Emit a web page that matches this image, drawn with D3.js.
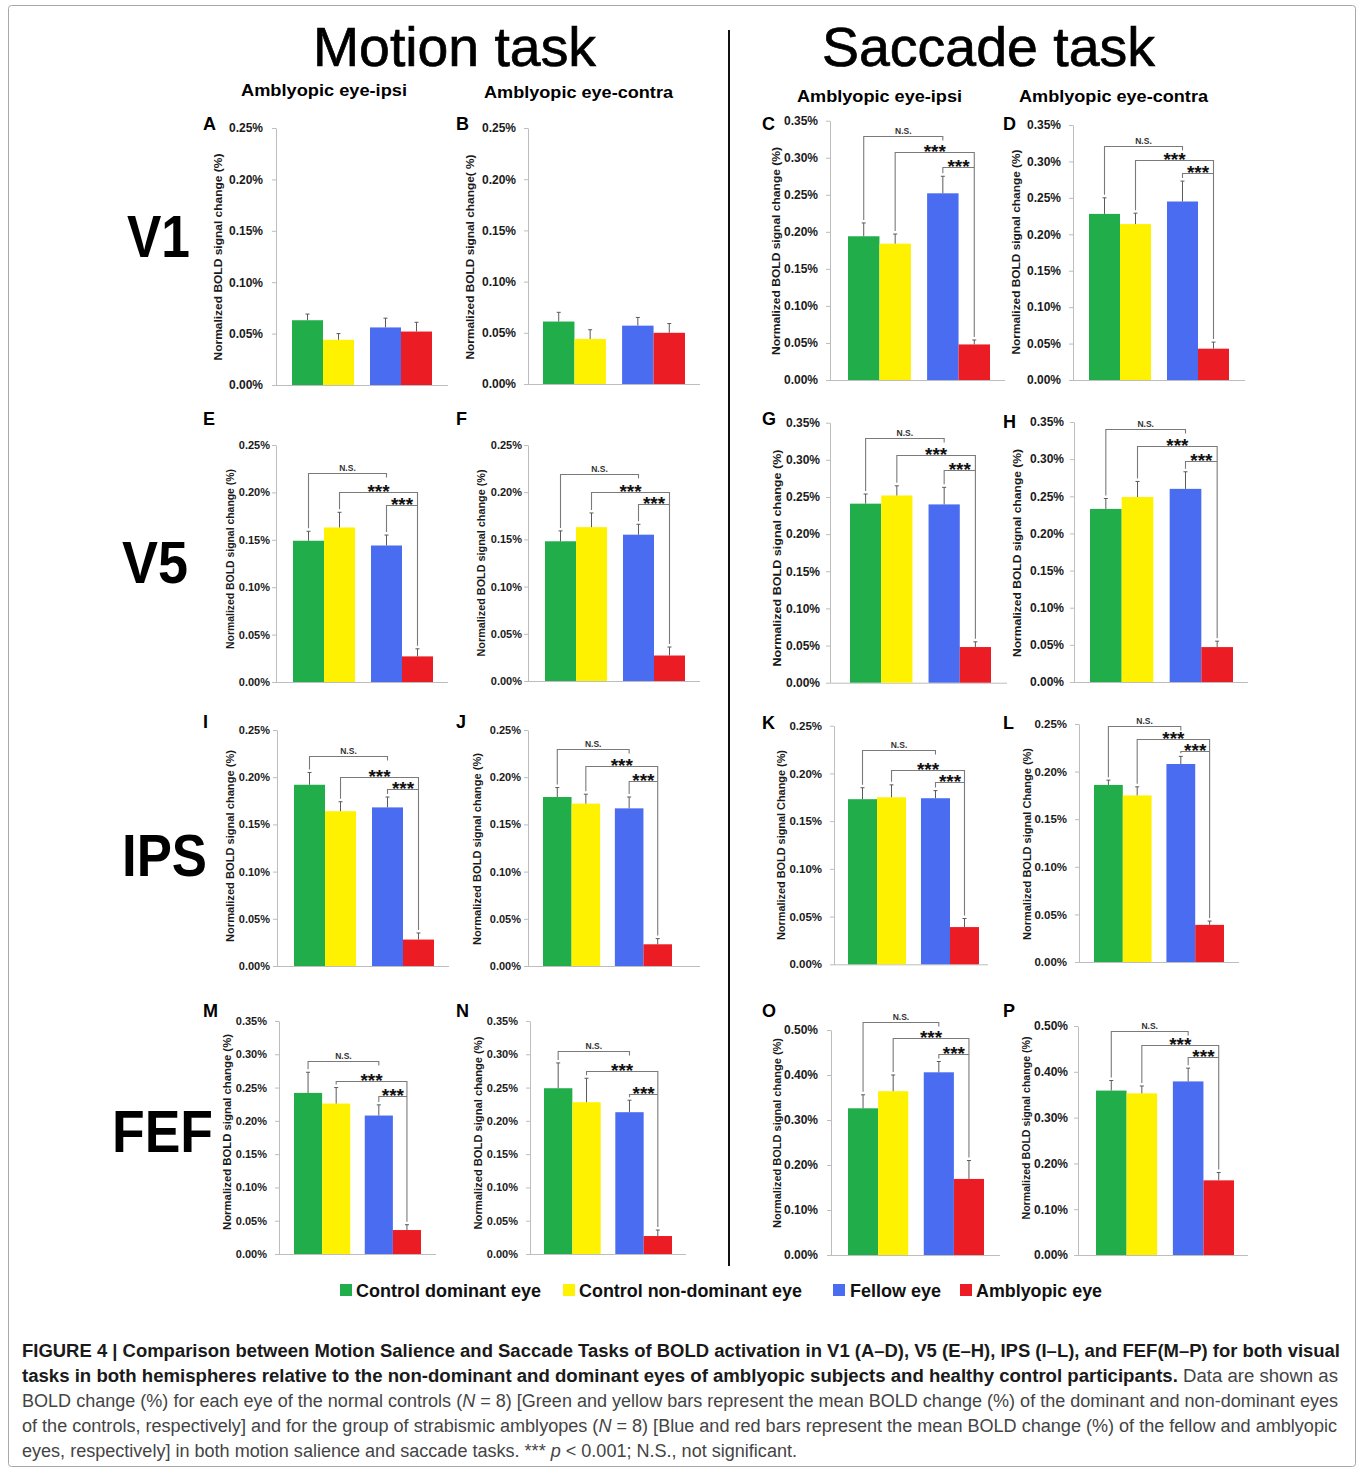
<!DOCTYPE html>
<html>
<head>
<meta charset="utf-8" />
<title>Figure 4</title>
<script src="https://d3js.org/d3.v7.min.js"></script>
<style>
  body { margin: 0; background: #fff; }
  svg text { font-family: "Liberation Sans", Arial, sans-serif; }
</style>
</head>
<body>
<svg id="fig" width="1363" height="1471"></svg>
<script>

// ---- data (values in % signal change) ----
var panelNames = ["A","B","C","D","E","F","G","H","I","J","K","L","M","N","O","P"];
var seriesNames = ["Control dominant eye", "Control non-dominant eye", "Fellow eye", "Amblyopic eye"];
var seriesColors = ["#22ad4b", "#fff200", "#4a6cf0", "#ec1c24"];

var controlDominant    = [0.063, 0.061, 0.194, 0.228, 0.149, 0.148, 0.241, 0.233, 0.192, 0.179, 0.173, 0.186, 0.242, 0.249, 0.326, 0.359];
var controlDominantErr = [0.006, 0.009, 0.018, 0.022, 0.010, 0.011, 0.013, 0.014, 0.013, 0.010, 0.012, 0.005, 0.031, 0.038, 0.030, 0.022];
var controlNonDom      = [0.044, 0.044, 0.184, 0.214, 0.163, 0.163, 0.252, 0.249, 0.164, 0.172, 0.175, 0.175, 0.226, 0.228, 0.364, 0.353];
var controlNonDomErr   = [0.006, 0.009, 0.013, 0.015, 0.016, 0.015, 0.013, 0.021, 0.010, 0.010, 0.013, 0.009, 0.024, 0.036, 0.036, 0.016];
var fellowEye          = [0.056, 0.057, 0.252, 0.245, 0.144, 0.155, 0.240, 0.260, 0.168, 0.167, 0.174, 0.208, 0.208, 0.213, 0.406, 0.379];
var fellowEyeErr       = [0.009, 0.008, 0.023, 0.028, 0.011, 0.011, 0.023, 0.023, 0.011, 0.012, 0.008, 0.008, 0.016, 0.018, 0.024, 0.029];
var amblyopicEye       = [0.052, 0.050, 0.048, 0.043, 0.027, 0.027, 0.048, 0.047, 0.028, 0.023, 0.039, 0.039, 0.036, 0.027, 0.169, 0.163];
var amblyopicEyeErr    = [0.009, 0.009, 0.006, 0.009, 0.008, 0.009, 0.007, 0.008, 0.007, 0.006, 0.009, 0.004, 0.008, 0.009, 0.041, 0.017];

var yMax  = [0.25, 0.25, 0.35, 0.35, 0.25, 0.25, 0.35, 0.35, 0.25, 0.25, 0.25, 0.25, 0.35, 0.35, 0.50, 0.50];
var yStep = [0.05, 0.05, 0.05, 0.05, 0.05, 0.05, 0.05, 0.05, 0.05, 0.05, 0.05, 0.05, 0.05, 0.05, 0.10, 0.10];

// bracket heights (in %): N.S. green-blue, *** yellow-red, *** blue-red
var sigLevels = [null, null,
  [0.330, 0.308, 0.288], [0.321, 0.302, 0.284],
  [0.2205, 0.200, 0.187], [0.219, 0.200, 0.187],
  [0.329, 0.307, 0.287], [0.340, 0.318, 0.298],
  [0.222, 0.200, 0.187], [0.230, 0.212, 0.196],
  [0.2245, 0.204, 0.191], [0.2475, 0.234, 0.222],
  [0.290, 0.260, 0.238], [0.305, 0.275, 0.240],
  [0.5185, 0.483, 0.447], [0.488, 0.459, 0.432]];
var sigLabels = ["N.S.", "***", "***"];

var yTitle  = "Normalized BOLD signal change (%)";
var yTitles = [yTitle, "Normalized BOLD signal change( %)", yTitle, yTitle, yTitle, yTitle, yTitle, yTitle,
  yTitle, yTitle, "Normalized BOLD signal Change (%)", "Normalized BOLD signal Change (%)",
  yTitle, yTitle, yTitle, yTitle];

var rowLabels = ["V1", "V5", "IPS", "FEF"];
var taskTitles = ["Motion task", "Saccade task"];
var columnTitles = ["Amblyopic eye-ipsi", "Amblyopic eye-contra", "Amblyopic eye-ipsi", "Amblyopic eye-contra"];

// ---- layout of each panel on the page ----
// x0: y axis, xe: end of x axis, b0/b1: bar span, top/bottom: y range,
// lg: label gap, fs: tick font, tx/ty/tl/ts: axis title, lx/ly: panel letter
var layout = {
  A: {x0: 276, xe: 448, b0: 292, b1: 432, top: 128, bottom: 385, lg: 13, fs: 12, tx: 218, ty: 257, tl: 207, ts: 11.5, lx: 203, ly: 130},
  B: {x0: 528, xe: 700, b0: 543, b1: 685, top: 128, bottom: 384, lg: 12, fs: 12, tx: 470, ty: 257, tl: 205, ts: 11.5, lx: 456, ly: 130},
  C: {x0: 830, xe: 1005, b0: 848, b1: 990, top: 120.7, bottom: 380, lg: 12, fs: 12, tx: 776, ty: 251, tl: 208, ts: 11.5, lx: 762, ly: 130},
  D: {x0: 1073, xe: 1245, b0: 1089, b1: 1229, top: 125, bottom: 380, lg: 12, fs: 12, tx: 1016, ty: 252, tl: 205, ts: 11.5, lx: 1003, ly: 130},
  E: {x0: 276, xe: 448, b0: 293, b1: 433, top: 445, bottom: 682, lg: 6, fs: 11, tx: 230, ty: 559, tl: 180, ts: 10, lx: 203, ly: 425},
  F: {x0: 528, xe: 700, b0: 545, b1: 685, top: 445, bottom: 681, lg: 6, fs: 11, tx: 481, ty: 563, tl: 187, ts: 10, lx: 456, ly: 425},
  G: {x0: 830, xe: 1007, b0: 850, b1: 991, top: 422.7, bottom: 682.7, lg: 10, fs: 12, tx: 777, ty: 558, tl: 217, ts: 11.5, lx: 762, ly: 425},
  H: {x0: 1074, xe: 1248, b0: 1090, b1: 1233, top: 422, bottom: 682, lg: 10, fs: 12, tx: 1017, ty: 553, tl: 208, ts: 11.5, lx: 1003, ly: 428},
  I: {x0: 277, xe: 449, b0: 294, b1: 434, top: 730, bottom: 966, lg: 7, fs: 11, tx: 230, ty: 846, tl: 192, ts: 10, lx: 203, ly: 728},
  J: {x0: 528, xe: 700, b0: 543, b1: 672, top: 730, bottom: 966, lg: 7, fs: 11, tx: 477, ty: 849, tl: 192, ts: 10, lx: 456, ly: 728},
  K: {x0: 834, xe: 988, b0: 848, b1: 979, top: 725.7, bottom: 964.3, lg: 12, fs: 11.5, tx: 781, ty: 845, tl: 190, ts: 10.5, lx: 762, ly: 729},
  L: {x0: 1079, xe: 1239, b0: 1094, b1: 1224, top: 724, bottom: 962, lg: 12, fs: 11.5, tx: 1027, ty: 844, tl: 192, ts: 10.5, lx: 1003, ly: 729},
  M: {x0: 279, xe: 436, b0: 294, b1: 421, top: 1021, bottom: 1254, lg: 12, fs: 11, tx: 227, ty: 1132, tl: 196, ts: 10, lx: 203, ly: 1017},
  N: {x0: 530, xe: 686, b0: 544, b1: 672, top: 1021, bottom: 1254, lg: 12, fs: 11, tx: 478, ty: 1133, tl: 193, ts: 10, lx: 456, ly: 1017},
  O: {x0: 831, xe: 1000, b0: 848, b1: 984, top: 1030, bottom: 1255, lg: 13, fs: 12, tx: 777, ty: 1133, tl: 190, ts: 10.5, lx: 762, ly: 1017},
  P: {x0: 1078, xe: 1248, b0: 1096, b1: 1234, top: 1026, bottom: 1255, lg: 10, fs: 12, tx: 1026, ty: 1128, tl: 183, ts: 10.5, lx: 1003, ly: 1017}
};

var svg = d3.select("#fig");

// frame
svg.append("rect")
  .attr("x", 8.5).attr("y", 5.5)
  .attr("width", 1347).attr("height", 1461)
  .attr("rx", 3)
  .attr("fill", "none")
  .attr("stroke", "#a8a8a8");

// divider between the two tasks
svg.append("line")
  .attr("x1", 729).attr("x2", 729)
  .attr("y1", 30).attr("y2", 1266)
  .attr("stroke", "#111").attr("stroke-width", 2);

// task titles
svg.selectAll(".task")
  .data(taskTitles)
  .enter().append("text")
  .attr("class", "task")
  .attr("x", function(d, i) { return [454.5, 988.5][i]; })
  .attr("y", 66)
  .attr("text-anchor", "middle")
  .attr("font-size", 56)
  .attr("stroke", "#000").attr("stroke-width", 0.7)
  .attr("textLength", function(d, i) { return [283, 333][i]; })
  .attr("lengthAdjust", "spacingAndGlyphs")
  .text(function(d) { return d; });

// column titles
svg.selectAll(".coltitle")
  .data(columnTitles)
  .enter().append("text")
  .attr("class", "coltitle")
  .attr("x", function(d, i) { return [324, 578.5, 879.5, 1113.5][i]; })
  .attr("y", function(d, i) { return [96, 98, 102, 102][i]; })
  .attr("text-anchor", "middle")
  .attr("font-size", 17)
  .attr("font-weight", "bold")
  .attr("textLength", function(d, i) { return [166, 189, 165, 189][i]; })
  .attr("lengthAdjust", "spacingAndGlyphs")
  .text(function(d) { return d; });

// row labels
svg.selectAll(".rowlabel")
  .data(rowLabels)
  .enter().append("text")
  .attr("class", "rowlabel")
  .attr("x", function(d, i) { return [127, 122, 122, 112][i]; })
  .attr("y", function(d, i) { return [257, 583, 876, 1152][i]; })
  .attr("font-size", 60)
  .attr("font-weight", "bold")
  .attr("textLength", function(d, i) { return [63, 66, 85, 101][i]; })
  .attr("lengthAdjust", "spacingAndGlyphs")
  .text(function(d) { return d; });

function drawPanel(name, i) {
  var L = layout[name];
  var g = svg.append("g").attr("class", "panel-" + name);

  var y = d3.scaleLinear().domain([0, yMax[i]]).range([L.bottom, L.top]);
  var groups = d3.scaleBand()
    .domain(["controls", "amblyopes"])
    .range([L.b0, L.b1])
    .paddingInner(0.205);
  var eyes = d3.scaleBand().domain([0, 1]).range([0, groups.bandwidth()]);

  var bars = [
    {group: "controls", eye: 0, v: controlDominant[i], e: controlDominantErr[i], c: seriesColors[0]},
    {group: "controls", eye: 1, v: controlNonDom[i], e: controlNonDomErr[i], c: seriesColors[1]},
    {group: "amblyopes", eye: 0, v: fellowEye[i], e: fellowEyeErr[i], c: seriesColors[2]},
    {group: "amblyopes", eye: 1, v: amblyopicEye[i], e: amblyopicEyeErr[i], c: seriesColors[3]}
  ];
  bars.forEach(function(d) {
    d.x = groups(d.group) + eyes(d.eye);
    d.cx = d.x + eyes.bandwidth() / 2;
  });

  // y axis
  var ticks = d3.range(0, yMax[i] + 1e-9, yStep[i]);
  var yAxis = d3.axisLeft(y)
    .tickValues(ticks)
    .tickSizeInner(4)
    .tickSizeOuter(0)
    .tickPadding(L.lg - 4)
    .tickFormat(function(d) { return d.toFixed(2) + "%"; });
  var ag = g.append("g")
    .attr("transform", "translate(" + L.x0 + ",0)")
    .call(yAxis);
  ag.select(".domain").attr("stroke", "#bdbdbd");
  ag.selectAll(".tick line").attr("stroke", "#bdbdbd");
  ag.selectAll(".tick text")
    .attr("fill", "#1a1a1a")
    .attr("font-size", L.fs)
    .attr("font-weight", "bold")
    .attr("font-family", "'Liberation Sans', Arial, sans-serif");

  // x axis
  g.append("line")
    .attr("x1", L.x0).attr("x2", L.xe)
    .attr("y1", y(0) + 0.5).attr("y2", y(0) + 0.5)
    .attr("stroke", "#bdbdbd");

  // bars
  g.selectAll(".bar")
    .data(bars)
    .enter().append("rect")
    .attr("class", "bar")
    .attr("x", function(d) { return d.x; })
    .attr("width", eyes.bandwidth())
    .attr("y", function(d) { return y(d.v); })
    .attr("height", function(d) { return y(0) - y(d.v); })
    .attr("fill", function(d) { return d.c; });

  // error bars
  var eb = g.selectAll(".err")
    .data(bars)
    .enter().append("g")
    .attr("class", "err")
    .attr("stroke", "#5a5a5a")
    .attr("stroke-width", 1);
  eb.append("line")
    .attr("x1", function(d) { return d.cx; })
    .attr("x2", function(d) { return d.cx; })
    .attr("y1", function(d) { return y(d.v); })
    .attr("y2", function(d) { return y(d.v + d.e); });
  eb.append("line")
    .attr("x1", function(d) { return d.cx - 2; })
    .attr("x2", function(d) { return d.cx + 2; })
    .attr("y1", function(d) { return y(d.v + d.e); })
    .attr("y2", function(d) { return y(d.v + d.e); });

  // significance brackets
  var lev = sigLevels[i];
  if (lev) {
    var tops = bars.map(function(d) { return y(d.v + d.e) - 3; });
    var h = lev.map(function(v) { return Math.round(y(v)) + 0.5; });
    var paths = [
      [[bars[0].cx, tops[0]], [bars[0].cx, h[0]], [bars[2].cx, h[0]], [bars[2].cx, h[0] + 4]],
      [[bars[1].cx, tops[1]], [bars[1].cx, h[1]], [bars[3].cx, h[1]], [bars[3].cx, tops[3]]],
      [[bars[2].cx, tops[2]], [bars[2].cx, h[2]], [bars[3].cx, h[2]]]
    ];
    var line = d3.line();
    g.selectAll(".bracket")
      .data(paths)
      .enter().append("path")
      .attr("class", "bracket")
      .attr("d", line)
      .attr("fill", "none")
      .attr("stroke", "#7a7a7a")
      .attr("stroke-width", 1.1);

    var labelPos = [
      {x: (bars[0].cx + bars[2].cx) / 2, y: h[0]},
      {x: (bars[1].cx + bars[3].cx) / 2, y: h[1]},
      {x: (bars[2].cx + bars[3].cx) / 2, y: h[2]}
    ];
    g.selectAll(".siglabel")
      .data(sigLabels)
      .enter().append("text")
      .attr("class", "siglabel")
      .attr("x", function(d, k) { return labelPos[k].x; })
      .attr("y", function(d, k) { return d === "N.S." ? labelPos[k].y - 3 : labelPos[k].y + 5; })
      .attr("text-anchor", "middle")
      .attr("font-size", function(d) { return d === "N.S." ? 8.5 : 19; })
      .attr("font-weight", "bold")
      .attr("fill", function(d) { return d === "N.S." ? "#333" : "#111"; })
      .text(function(d) { return d; });
  }

  // y axis title
  g.append("text")
    .attr("transform", "translate(" + L.tx + "," + L.ty + ") rotate(-90)")
    .attr("text-anchor", "middle")
    .attr("dominant-baseline", "central")
    .attr("font-size", L.ts)
    .attr("font-weight", "bold")
    .attr("fill", "#1a1a1a")
    .attr("textLength", L.tl)
    .attr("lengthAdjust", "spacingAndGlyphs")
    .text(yTitles[i]);

  // panel letter
  g.append("text")
    .attr("x", L.lx).attr("y", L.ly)
    .attr("font-size", 18)
    .attr("font-weight", "bold")
    .text(name);
}

panelNames.forEach(drawPanel);

// legend
var legendSquare = [340, 563, 833, 960];
var legendText = [356, 579, 850, 976];
var legendWidth = [185, 223, 91, 126];
var lg = svg.selectAll(".legend")
  .data(seriesNames)
  .enter().append("g")
  .attr("class", "legend");
lg.append("rect")
  .attr("x", function(d, i) { return legendSquare[i]; })
  .attr("y", 1284)
  .attr("width", 12).attr("height", 12)
  .attr("fill", function(d, i) { return seriesColors[i]; });
lg.append("text")
  .attr("x", function(d, i) { return legendText[i]; })
  .attr("y", 1297)
  .attr("font-size", 18)
  .attr("font-weight", "bold")
  .attr("fill", "#111")
  .attr("textLength", function(d, i) { return legendWidth[i]; })
  .attr("lengthAdjust", "spacingAndGlyphs")
  .text(function(d) { return d; });

// caption
var captionLines = [
  [["b", "FIGURE 4 | Comparison between Motion Salience and Saccade Tasks of BOLD activation in V1 (A–D), V5 (E–H), IPS (I–L), and FEF(M–P) for both visual"]],
  [["b", "tasks in both hemispheres relative to the non-dominant and dominant eyes of amblyopic subjects and healthy control participants."], ["r", " Data are shown as"]],
  [["r", "BOLD change (%) for each eye of the normal controls ("], ["i", "N"], ["r", " = 8) [Green and yellow bars represent the mean BOLD change (%) of the dominant and non-dominant eyes"]],
  [["r", "of the controls, respectively] and for the group of strabismic amblyopes ("], ["i", "N"], ["r", " = 8) [Blue and red bars represent the mean BOLD change (%) of the fellow and amblyopic"]],
  [["r", "eyes, respectively] in both motion salience and saccade tasks. *** "], ["i", "p"], ["r", " < 0.001; N.S., not significant."]]
];
var captionWidths = [1318, 1316, 1316, 1315, 775];

captionLines.forEach(function(parts, k) {
  var t = svg.append("text")
    .attr("x", 22)
    .attr("y", 1357 + k * 25)
    .attr("font-size", 18)
    .attr("font-family", "'Liberation Sans Narrow', 'Liberation Sans', Arial, sans-serif")
    .attr("textLength", captionWidths[k])
    .attr("lengthAdjust", "spacingAndGlyphs");
  parts.forEach(function(p) {
    t.append("tspan")
      .attr("font-weight", p[0] === "b" ? "bold" : "normal")
      .attr("font-style", p[0] === "i" ? "italic" : "normal")
      .attr("fill", p[0] === "b" ? "#1a1a1a" : "#444")
      .text(p[1]);
  });
});

</script>
</body>
</html>
